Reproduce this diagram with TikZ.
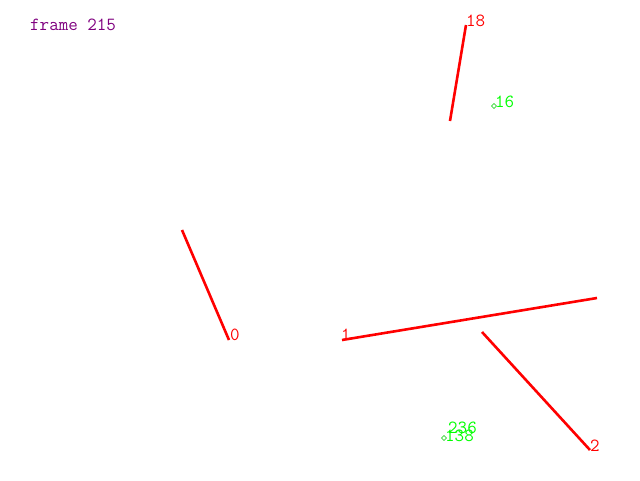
\documentclass[tikz,border=0pt]{standalone}
\begin{document}
\begin{tikzpicture}[x=1pt,y=-1pt,
  seg/.style={draw=red,line width=2.6pt},
  lbl/.style={anchor=base west,inner sep=0pt,font=\ttfamily\fontsize{18.5}{18.5}\selectfont},
  rlbl/.style={lbl,text=red},
  glbl/.style={lbl,text=green}]
\useasboundingbox[fill=white] (0,0) rectangle (640,480);
\node[lbl,text={rgb,255:red,128;green,0;blue,128}] (frame) at (30,30) {frame 215};
% segments
\coordinate (a0) at (182,230); \coordinate (b0) at (229,340);
\coordinate (a1) at (342,340); \coordinate (b1) at (597,298);
\coordinate (a2) at (482,332); \coordinate (b2) at (590,450);
\coordinate (a18) at (466,25); \coordinate (b18) at (450,121);
\draw[seg] (a0) -- (b0);
\draw[seg] (a1) -- (b1);
\draw[seg] (a2) -- (b2);
\draw[seg] (a18) -- (b18);
\node[rlbl] (l0) at (230,340) {0};
\node[rlbl] (l1) at (341,340) {1};
\node[rlbl] (l2) at (590,451) {2};
\node[rlbl] (l18) at (466,26) {18};
% green points
\draw[green!80!black,line width=0.6pt] (494,103.5) -- (496.5,106) -- (494,108.5) -- (491.5,106) -- cycle;
\draw[green!80!black,line width=0.6pt] (444,435.5) -- (446.5,438) -- (444,440.5) -- (441.5,438) -- cycle;
\node[glbl] (l16) at (495,107) {16};
\node[glbl] (l236) at (448,433) {236};
\node[glbl] (l138) at (445,441) {138};
\end{tikzpicture}
\end{document}
